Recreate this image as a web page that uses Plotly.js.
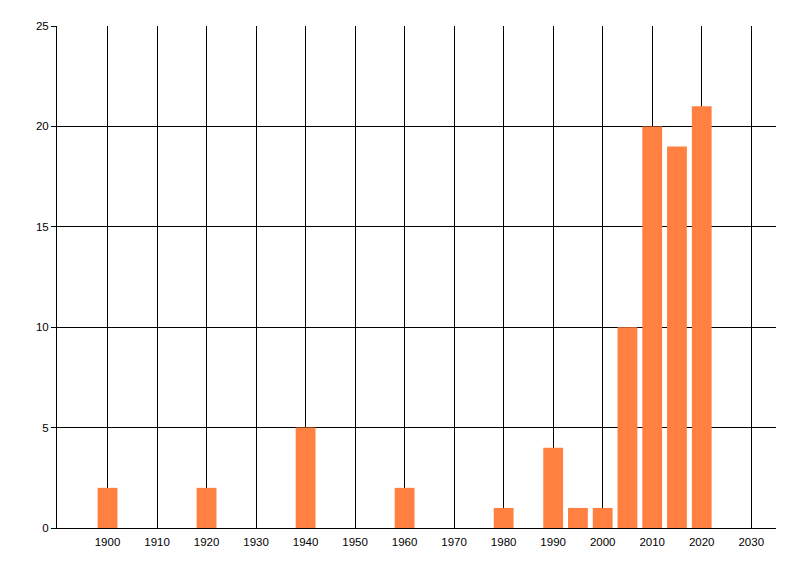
<!DOCTYPE html>
<html>
<head>
<meta charset="utf-8">
<script src="https://cdn.plot.ly/plotly-3.0.1.min.js"></script>
<style>
  html, body { margin: 0; padding: 0; background: #fff; }
  #chart { width: 800px; height: 576px; }
</style>
</head>
<body>
<div id="chart"></div>
<script>
// years and counts
var years = [1900, 1920, 1940, 1960, 1980, 1990, 1995, 2000, 2005, 2010, 2015, 2020];
var counts = [2, 2, 5, 2, 1, 4, 1, 1, 10, 20, 19, 21];
var xTicks = [1900, 1910, 1920, 1930, 1940, 1950, 1960, 1970, 1980, 1990, 2000, 2010, 2020, 2030];
var yTicks = [0, 5, 10, 15, 20, 25];

var trace = {
    x: years,
    y: counts,
    type: 'bar',
    width: 4,
    marker: { color: '#FF8040', line: { width: 0 } },
    hoverinfo: 'x+y'
};

var layout = {
    width: 800,
    height: 576,
    showlegend: false,
    paper_bgcolor: '#fff',
    plot_bgcolor: '#fff',
    margin: { l: 57, r: 24, t: 26, b: 48 },
    font: { family: 'Liberation Sans, DejaVu Sans, sans-serif', size: 11.5, color: '#000' },
    xaxis: {
        range: [1889.8, 2035],
        tickvals: xTicks,
        ticktext: xTicks.map(String),
        showgrid: true,
        gridcolor: '#000',
        gridwidth: 1,
        zeroline: false,
        showline: true,
        linecolor: '#000',
        linewidth: 1,
        ticks: '',
        ticklen: 0,
        ticklabelstandoff: 3,
        fixedrange: true
    },
    yaxis: {
        range: [0, 25],
        tickvals: yTicks,
        ticktext: yTicks.map(String),
        showgrid: true,
        gridcolor: '#000',
        gridwidth: 1,
        zeroline: false,
        showline: true,
        linecolor: '#000',
        linewidth: 1,
        ticks: 'outside',
        ticklen: 5,
        tickcolor: '#000',
        fixedrange: true
    }
};

Plotly.newPlot('chart', [trace], layout, { displayModeBar: false, staticPlot: true });
</script>
</body>
</html>
